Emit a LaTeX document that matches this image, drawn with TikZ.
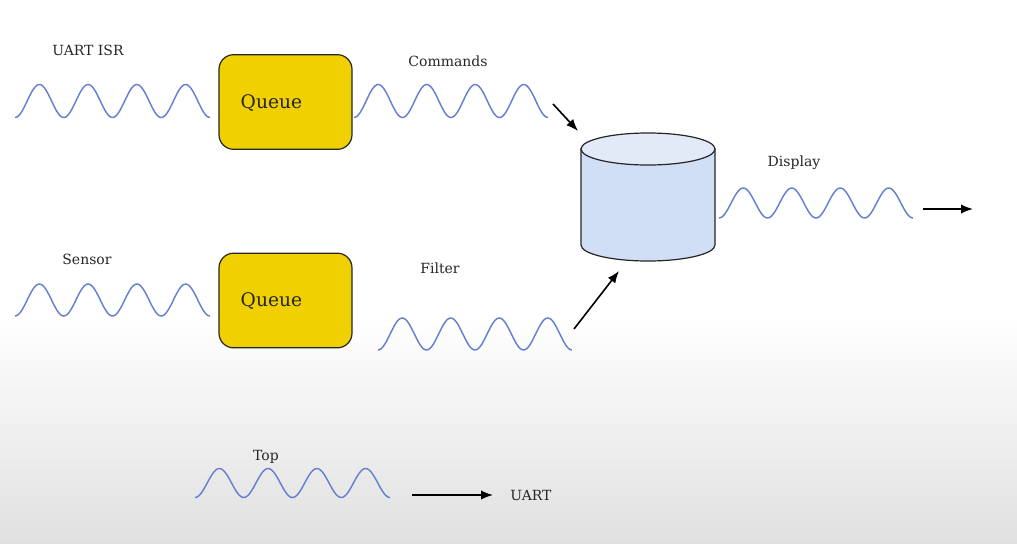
\documentclass[tikz,border=0pt]{standalone}
\usepackage{fontspec}
\setmainfont{DejaVu Serif}
\usetikzlibrary{arrows.meta}
\definecolor{wavec}{RGB}{104,128,208}
\definecolor{qfill}{RGB}{240,208,0}
\definecolor{cylbody}{RGB}{208,223,245}
\definecolor{cyltop}{RGB}{226,234,248}
\definecolor{bgbot}{RGB}{224,224,224}
\tikzset{
  wavy/.style={draw=wavec, line width=1.1pt},
  queuebox/.style={draw=black!85, line width=0.9pt, fill=qfill, rounded corners=11pt, minimum width=99.75pt, minimum height=71pt},
  qtext/.style={font=\fontsize{14}{16}\selectfont, text=black!85},
  lbl/.style={font=\fontsize{10.5}{12}\selectfont, text=black!85},
  arr/.style={-{Latex[length=9pt,width=7pt]}, line width=1.2pt, black}
}
\newcommand{\wavepath}[4]{% x0, yc, width, amplitude
  \draw[wavy] plot[domain=0:1440, samples=120, smooth] ({#1+\x/1440*#3},{#2+#4*cos(\x)});
}
\begin{document}
\begin{tikzpicture}[x=0.75pt,y=-0.75pt]
\useasboundingbox (0,0) rectangle (1017,543);
\fill[white] (0,0) rectangle (1017,320);
\shade[top color=white, bottom color=bgbot] (0,319) rectangle (1017,543);

% labels
\node[lbl] (uartisr) at (88,50) {UART ISR};
\node[lbl] (cmdl) at (448,61) {Commands};
\node[lbl] (sensorl) at (87,259) {Sensor};
\node[lbl] (filterl) at (440,268) {Filter};
\node[lbl] (displ) at (794,163) {Display};
\node[lbl] (topl) at (266,457) {Top};
\node[lbl] (uartl) at (531,495) {UART};

% queues
\node[queuebox] (q1) at (285.5,102) {};
\node[qtext, anchor=west] (q1t) at (236,103) {Queue};
\node[queuebox] (q2) at (285.5,300.5) {};
\node[qtext, anchor=west] (q2t) at (236,301) {Queue};

% waves
\wavepath{15}{101}{195}{16.5}
\wavepath{354}{101}{194}{16.5}
\wavepath{15}{300}{195}{16}
\wavepath{378}{334}{194}{16}
\wavepath{719}{203}{194}{15}
\wavepath{195}{483}{195}{14.5}

% cylinder
\filldraw[fill=cylbody, draw=black!85, line width=0.9pt]
  (581,149) -- (581,245) arc[start angle=180, end angle=0, x radius=67, y radius=16] -- (715,149) -- cycle;
\filldraw[fill=cyltop, draw=black!85, line width=0.9pt] (648,149) ellipse[x radius=67, y radius=16];
\node[minimum width=100pt, minimum height=98pt, inner sep=0pt] (db) at (648,196) {};

% arrow end points
\coordinate (c1s) at (553,104);
\coordinate (c1e) at (578,131);
\coordinate (f1s) at (574,329);
\coordinate (f1e) at (619,271);
\coordinate (d1s) at (923,209);
\coordinate (d1e) at (973,209);
\coordinate (t1s) at (412,495);

\draw[arr] (c1s) -- (c1e);
\draw[arr] (f1s) -- (f1e);
\draw[arr] (d1s) -- (d1e);
\draw[arr] (t1s) -- (uartl.west -| 493,0);
\end{tikzpicture}
\end{document}
